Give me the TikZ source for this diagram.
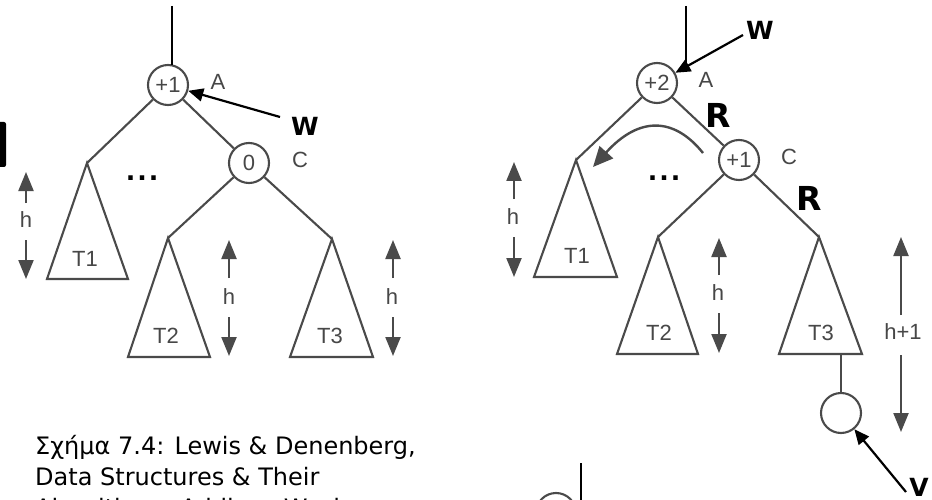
\documentclass[tikz,border=0pt]{standalone}
\usepackage{fontspec}
\setmainfont{Liberation Sans}
\newfontfamily\comic{DejaVu Sans}
\usetikzlibrary{arrows.meta}
\definecolor{tg}{HTML}{4A4A4A}
\definecolor{tt}{HTML}{474747}
\begin{document}
\begin{tikzpicture}[x=1pt,y=-1pt,
  edge/.style={draw=tg, line width=2.1pt},
  topline/.style={draw=black, line width=1.5pt},
  bnode/.style={circle, draw=tg, line width=2.1pt, minimum size=40pt, inner sep=0pt, text=tt, font=\fontsize{22}{22}\selectfont},
  lbl/.style={text=tt, font=\fontsize{22}{22}\selectfont, inner sep=0pt},
  tri/.style={draw=tg, line width=2.1pt, line join=miter},
  harrow/.style={draw=tg, line width=2.2pt, -{Triangle[length=19pt,width=15pt]}},
  blk/.style={draw=black, line width=2.2pt, -{Triangle[length=15pt,width=13pt]}},
  curv/.style={draw=tg, line width=2.4pt, -{Triangle[length=20pt,width=18pt]}},
  hand/.style={font=\comic\bfseries\fontsize{25}{25}\selectfont, inner sep=0pt},
  handR/.style={font=\comic\bfseries\fontsize{33}{33}\selectfont, inner sep=0pt},
  dots/.style={font=\comic\bfseries\fontsize{25}{25}\selectfont, inner sep=0pt},
  captext/.style={font=\comic\fontsize{24}{24}\selectfont, inner sep=0pt, anchor=base west},
]
\useasboundingbox (0,0) rectangle (932,500);
\clip (0,0) rectangle (932,500);
\fill[white] (0,0) rectangle (932,500);

% fragment at left edge
\fill[black, rounded corners=2pt] (-3,122) rectangle (6,167);

% ---------------- left tree ----------------
\node[bnode] (AL) at (168,85) {+1};
\node[bnode] (CL) at (249,163) {0};
\node[lbl] (aL) at (218,82) {A};
\node[lbl] (cL) at (300,160) {C};
\coordinate (topL) at (172,6);
\coordinate (topLb) at (172,65);
\draw[topline] (topL) -- (topLb);

\coordinate (t1La) at (87,163);
\coordinate (t2La) at (168,238);
\coordinate (t3La) at (332,239);
\draw[tri] (t1La) -- (47,279) -- (128,279) -- cycle;
\draw[tri] (t2La) -- (128,357) -- (210,357) -- cycle;
\draw[tri] (t3La) -- (290,357) -- (373,357) -- cycle;
\node[lbl] (T1L) at (85,259) {T1};
\node[lbl] (T2L) at (166,336) {T2};
\node[lbl] (T3L) at (330,336) {T3};
\draw[edge] (AL) -- (t1La);
\draw[edge] (AL) -- (CL);
\draw[edge] (CL) -- (t2La);
\draw[edge] (CL) -- (t3La);
\node[dots] (dL) at (142,178) {.\hspace{2pt}.\hspace{2pt}.};

\node[hand] (W1) at (305,126) {W};
\coordinate (W1t) at (280,117);
\draw[blk] (W1t) -- (AL);

% height arrows (left)
\node[lbl] (h1L) at (26,220) {h};
\coordinate (h1Lu) at (26,203); \coordinate (h1Lut) at (26,172);
\coordinate (h1Ld) at (26,240); \coordinate (h1Ldt) at (26,279);
\draw[harrow] (h1Lu) -- (h1Lut);
\draw[harrow] (h1Ld) -- (h1Ldt);
\node[lbl] (h2L) at (229,297) {h};
\coordinate (h2Lu) at (229,278); \coordinate (h2Lut) at (229,240);
\coordinate (h2Ld) at (229,317); \coordinate (h2Ldt) at (229,356);
\draw[harrow] (h2Lu) -- (h2Lut);
\draw[harrow] (h2Ld) -- (h2Ldt);
\node[lbl] (h3L) at (392,297) {h};
\coordinate (h3Lu) at (393,278); \coordinate (h3Lut) at (393,240);
\coordinate (h3Ld) at (393,317); \coordinate (h3Ldt) at (393,356);
\draw[harrow] (h3Lu) -- (h3Lut);
\draw[harrow] (h3Ld) -- (h3Ldt);

% ---------------- right tree ----------------
\node[bnode] (AR) at (657,83) {+2};
\node[bnode] (CR) at (739,160) {+1};
\node[lbl] (aR) at (706,80) {A};
\node[lbl] (cR) at (789,157) {C};
\coordinate (topR) at (686,6);
\coordinate (topRb) at (686,67);
\draw[topline] (topR) -- (topRb);

\coordinate (t1Ra) at (576,160);
\coordinate (t2Ra) at (658,237);
\coordinate (t3Ra) at (819,237);
\draw[tri] (t1Ra) -- (534,277) -- (617,277) -- cycle;
\draw[tri] (t2Ra) -- (617,354) -- (698,354) -- cycle;
\draw[tri] (t3Ra) -- (779,354) -- (862,354) -- cycle;
\node[lbl] (T1R) at (577,256) {T1};
\node[lbl] (T2R) at (659,333) {T2};
\node[lbl] (T3R) at (821,333) {T3};
\draw[edge] (AR) -- (t1Ra);
\draw[edge] (AR) -- (CR);
\draw[edge] (CR) -- (t2Ra);
\draw[edge] (CR) -- (t3Ra);
\node[dots] (dR) at (664,178) {.\hspace{2pt}.\hspace{2pt}.};

\node[bnode] (VR) at (841,413) {};
\coordinate (t3Rb) at (841,354);
\draw[edge] (t3Rb) -- (VR);

\coordinate (cvs) at (703,153);
\coordinate (cve) at (593,167);
\draw[curv] (cvs) .. controls (675,118) and (640,115) .. (cve);

\node[handR] (R1) at (718,115) {R};
\node[handR] (R2) at (809,198) {R};

\node[hand] (W2) at (760,30) {W};
\coordinate (W2t) at (743,35);
\draw[blk] (W2t) -- (AR);

\node[hand] (V) at (919,487) {V};
\coordinate (Vt) at (906,492);
\draw[blk] (Vt) -- (VR);

% height arrows (right)
\node[lbl] (h1R) at (513,217) {h};
\coordinate (h1Ru) at (514,199); \coordinate (h1Rut) at (514,162);
\coordinate (h1Rd) at (514,237); \coordinate (h1Rdt) at (514,277);
\draw[harrow] (h1Ru) -- (h1Rut);
\draw[harrow] (h1Rd) -- (h1Rdt);
\node[lbl] (h2R) at (718,293) {h};
\coordinate (h2Ru) at (719,275); \coordinate (h2Rut) at (719,238);
\coordinate (h2Rd) at (719,313); \coordinate (h2Rdt) at (719,353);
\draw[harrow] (h2Ru) -- (h2Rut);
\draw[harrow] (h2Rd) -- (h2Rdt);
\node[lbl] (h3R) at (903,332) {h+1};
\coordinate (h3Ru) at (901,315); \coordinate (h3Rut) at (901,237);
\coordinate (h3Rd) at (901,355); \coordinate (h3Rdt) at (901,432);
\draw[harrow] (h3Ru) -- (h3Rut);
\draw[harrow] (h3Rd) -- (h3Rdt);

% partial third figure at bottom
\node[bnode] (Nb) at (556,513) {};
\coordinate (Nbt) at (581,463);
\coordinate (Nbb) at (581,505);
\draw[topline] (Nbt) -- (Nbb);

% caption
\node[captext] (cap1) at (35,454) {Σχήμα 7.4: Lewis \& Denenberg,};
\node[captext] (cap2) at (35,485) {Data Structures \& Their};
\node[captext] (cap3) at (35,516) {Algorithms, Addison-Wesley};
\end{tikzpicture}
\end{document}
